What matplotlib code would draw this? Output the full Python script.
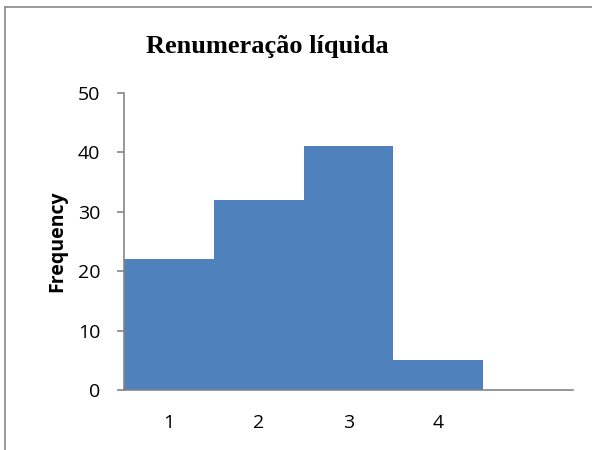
import matplotlib.pyplot as plt
from matplotlib.lines import Line2D

# Histogram data
categories = ['1', '2', '3', '4', '']
frequency = [22, 32, 41, 5, 0]
y_ticks = [0, 10, 20, 30, 40, 50]

W, H = 592, 450
fig = plt.figure(figsize=(W / 100, H / 100), dpi=100)

# Axes placed in pixel positions of the reference
left, right, top, bottom = 124, 573, 93, 390
ax = fig.add_axes([left / W, 1 - bottom / H, (right - left) / W, (bottom - top) / H])

x = range(len(categories))
ax.bar(x, frequency, width=1.0, color='#4F81BD', edgecolor='none')

ax.set_xlim(-0.5, len(categories) - 0.5)
ax.set_ylim(0, 50)
ax.set_yticks(y_ticks)
ax.set_xticks(list(x))
ax.set_xticklabels(categories)

gray = '#868686'
for s in ['top', 'right']:
    ax.spines[s].set_visible(False)
for s in ['left', 'bottom']:
    ax.spines[s].set_color(gray)
    ax.spines[s].set_linewidth(1.2)

ax.tick_params(axis='y', length=5, width=1.2, color=gray, labelsize=14, pad=12)
ax.tick_params(axis='x', length=0, labelsize=14, pad=17)
for lbl in ax.get_xticklabels() + ax.get_yticklabels():
    lbl.set_fontfamily('Open Sans')

ax.set_ylabel('Frequency', fontsize=14, fontweight='bold', family='Open Sans', labelpad=8)

fig.text(267 / W, 1 - 47 / H, 'Renumeração líquida', ha='center', va='center',
         fontsize=19, fontweight='bold', family='Liberation Serif')

# Outer chart border (partially cropped in reference)
fig.add_artist(Line2D([5 / W, 5 / W], [0, 1 - 7 / H], color='#888888', lw=1.2, transform=fig.transFigure))
fig.add_artist(Line2D([5 / W, 1], [1 - 7 / H, 1 - 7 / H], color='#888888', lw=1.2, transform=fig.transFigure))

fig.savefig('out.png', dpi=100)
